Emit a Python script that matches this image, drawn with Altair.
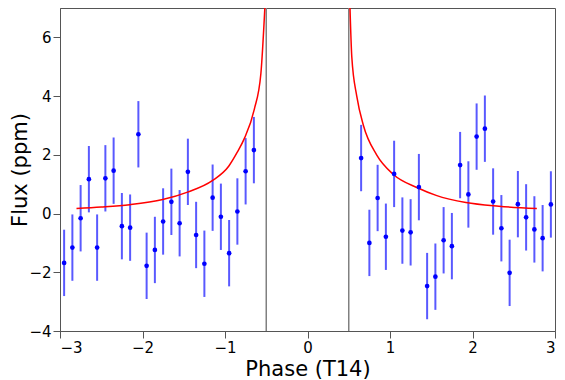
import altair as alt
import pandas as pd

# Data
left_phase = [-2.95, -2.85, -2.75, -2.65, -2.55, -2.45, -2.35, -2.25, -2.15, -2.05, -1.95, -1.85,
              -1.75, -1.65, -1.55, -1.45, -1.35, -1.25, -1.15, -1.05, -0.95, -0.85, -0.75, -0.65]
left_flux = [-1.68, -1.16, -0.16, 1.17, -1.16, 1.20, 1.46, -0.43, -0.48, 2.70, -1.78, -1.24,
             -0.27, 0.40, -0.33, 1.42, -0.73, -1.71, 0.54, -0.11, -1.35, 0.07, 1.44, 2.16]
right_phase = [0.65, 0.75, 0.85, 0.95, 1.05, 1.15, 1.25, 1.35, 1.45, 1.55, 1.65, 1.75,
               1.85, 1.95, 2.05, 2.15, 2.25, 2.35, 2.45, 2.55, 2.65, 2.75, 2.85, 2.95]
right_flux = [1.89, -1.00, 0.53, -0.79, 1.35, -0.58, -0.64, 0.90, -2.47, -2.15, -0.91, -1.11,
              1.65, 0.65, 2.62, 2.89, 0.41, -0.50, -2.02, 0.32, -0.13, -0.54, -0.84, 0.31]
flux_err = [1.13] * 24

model_left_phase = [-2.80, -2.50, -2.155, -1.755, -1.454, -1.154, -0.953, -0.853, -0.765, -0.645, -0.565, -0.517]
model_left_flux = [0.17, 0.22, 0.30, 0.475, 0.73, 1.12, 1.62, 2.08, 2.56, 3.55, 4.77, 7.0]
model_right_phase = [0.515, 0.537, 0.597, 0.678, 0.838, 1.038, 1.339, 1.559, 1.92, 2.32, 2.78]
model_right_flux = [7.0, 5.33, 4.0, 3.0, 2.0, 1.34, 0.87, 0.62, 0.375, 0.25, 0.17]

transit_edges = [-0.5, 0.5]
x_ticks = [-3, -2, -1, 0, 1, 2, 3]
y_ticks = [-4, -2, 0, 2, 4, 6]

obs = pd.DataFrame({
    "phase": left_phase + right_phase,
    "flux": left_flux + right_flux,
    "err": flux_err + flux_err,
})
model = pd.DataFrame({
    "phase": model_left_phase + model_right_phase,
    "flux": model_left_flux + model_right_flux,
    "side": ["L"] * len(model_left_phase) + ["R"] * len(model_right_phase),
})
edges = pd.DataFrame({"phase": transit_edges})

W, H = 495, 323

xscale = alt.Scale(domain=[-3, 3], nice=False, zero=False)
yscale = alt.Scale(domain=[-4, 7], nice=False, zero=False)

xaxis = alt.Axis(title="Phase (T14)", values=x_ticks, format="d", titlePadding=3)
yaxis = alt.Axis(title="Flux (ppm)", values=y_ticks, format="d",
                 titleX=-30, titleY=H / 2, titleAngle=270,
                 titleBaseline="bottom", titleAlign="center")

xenc = alt.X("phase:Q", scale=xscale, axis=xaxis)
yenc = alt.Y("flux:Q", scale=yscale, axis=yaxis)

vlines = alt.Chart(edges).mark_rule(color="#808080", strokeWidth=1.5).encode(x=xenc)

errbars = alt.Chart(obs).transform_calculate(
    lo="datum.flux - datum.err", hi="datum.flux + datum.err"
).mark_rule(color="#0000ff", opacity=0.65, strokeWidth=2).encode(
    x=xenc, y=alt.Y("lo:Q", scale=yscale, axis=yaxis), y2="hi:Q")

curve = alt.Chart(model).mark_line(color="#ff0000", strokeWidth=1.5, clip=True,
                                   interpolate="monotone").encode(
    x=xenc, y=yenc, detail="side:N")

points = alt.Chart(obs).mark_circle(color="#0000ff", opacity=1, size=22).encode(x=xenc, y=yenc)

chart = alt.layer(vlines, errbars, curve, points).properties(
    width=W, height=H,
    autosize=alt.AutoSizeParams(type="none"),
    padding={"left": 52, "top": 0, "right": 2, "bottom": 48},
).configure_view(
    stroke="#555555", strokeWidth=1
).configure_axis(
    grid=False,
    labelFont="DejaVu Sans", titleFont="DejaVu Sans",
    labelFontSize=15, titleFontSize=21, titleFontWeight="normal",
    labelColor="black", titleColor="black",
    tickColor="#555555", domainColor="#555555", tickSize=7, labelPadding=2,
)

chart.save("out.html", embed_options={"renderer": "svg", "actions": False})
